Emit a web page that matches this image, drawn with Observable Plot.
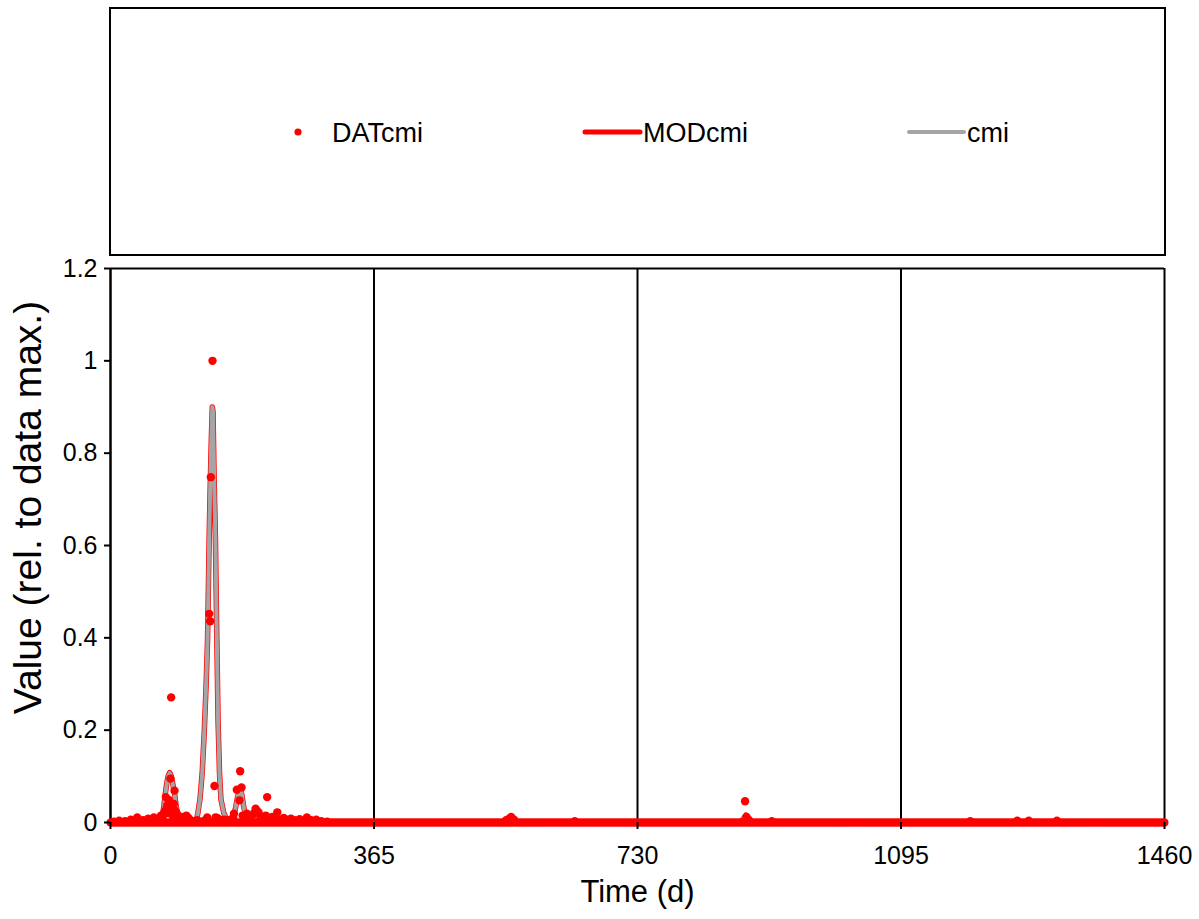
<!DOCTYPE html>
<html>
<head>
<meta charset="utf-8">
<script src="https://cdn.jsdelivr.net/npm/d3@7"></script>
<script src="https://cdn.jsdelivr.net/npm/@observablehq/plot@0.6"></script>
<style>
  html, body { margin: 0; padding: 0; background: #fff; }
  #chart { position: relative; width: 1199px; height: 919px; }
  #chart svg { display: block; }
  #legendsvg { position: absolute; left: 0; top: 0; z-index: 2; pointer-events: none; }
  #plotwrap { position: absolute; left: 0; top: 240px; z-index: 1; }
</style>
</head>
<body>
<div id="chart"><div id="plotwrap"></div></div>
<script>
// ---------- data ----------
const xTicks = [0, 365, 730, 1095, 1460];
const yTicks = [0, 0.2, 0.4, 0.6, 0.8, 1, 1.2];
const gridDays = [365, 730, 1095, 1460];

// observed data (DATcmi): non-zero observations
const datDays = [5, 12, 20, 28, 37, 45, 52, 60, 64, 68, 70, 72, 74, 76, 76.6, 77, 78.5, 80.8, 82, 83, 84, 85, 86, 87.7, 88.7, 90, 92, 93, 95, 98, 101, 105, 108, 112, 116, 120, 125, 130, 134, 136.7, 138, 139, 141.3, 144, 145.5, 148, 151, 155, 158, 162, 166, 170, 171, 175, 178.7, 179.6, 181.5, 183, 186, 189, 192, 196, 199, 201, 203, 205, 208, 212, 215, 217, 220, 224, 228, 231, 235, 240, 245, 250, 255, 262, 268, 272, 278, 285, 292, 300, 548, 552, 555, 559, 643, 879, 881, 884, 916, 1191, 1256, 1272, 1311];
const datVals = [0.002, 0.004, 0.003, 0.006, 0.011, 0.005, 0.008, 0.011, 0.006, 0.01, 0.015, 0.012, 0.02, 0.026, 0.055, 0.02, 0.037, 0.049, 0.02, 0.095, 0.271, 0.03, 0.015, 0.04, 0.069, 0.025, 0.019, 0.008, 0.01, 0.012, 0.008, 0.015, 0.01, 0.004, 0.003, 0.005, 0.002, 0.004, 0.011, 0.452, 0.436, 0.748, 1.0, 0.079, 0.011, 0.01, 0.006, 0.004, 0.006, 0.004, 0.006, 0.01, 0.019, 0.071, 0.048, 0.111, 0.076, 0.015, 0.01, 0.019, 0.012, 0.015, 0.02, 0.03, 0.025, 0.022, 0.012, 0.01, 0.015, 0.055, 0.01, 0.012, 0.008, 0.022, 0.006, 0.01, 0.006, 0.008, 0.005, 0.007, 0.004, 0.011, 0.005, 0.006, 0.003, 0.002, 0.005, 0.008, 0.012, 0.006, 0.003, 0.046, 0.012, 0.006, 0.003, 0.003, 0.004, 0.004, 0.004];
// the remaining daily observations read as zero (sampled every 2 days)
const datZeroStep = 2;

// simulated curve cmi (grey)
const cmiDays = [0, 30, 60, 66, 70, 72, 74, 76, 78, 80, 82, 84, 86, 88.7, 90.5, 92.4, 95, 99, 104, 115, 119, 121, 124, 127, 130, 132.5, 134.4, 135.5, 136.6, 138, 139.5, 141, 142, 143.5, 145.4, 147.3, 149, 151, 153, 157, 162, 166, 170, 173, 176, 179, 181, 183, 185, 188, 192, 196, 200, 204, 208, 212, 216, 219, 223, 230, 250, 266, 270, 274, 280, 540, 548, 552, 556, 562, 871, 876, 880, 884, 888, 894, 1250, 1256, 1262, 1305, 1311, 1317, 1460];
const cmiVals = [0, 0, 0, 0, 0.008, 0.015, 0.035, 0.062, 0.085, 0.1, 0.107, 0.1, 0.085, 0.062, 0.04, 0.022, 0.01, 0.003, 0, 0, 0.005, 0.02, 0.05, 0.106, 0.2, 0.3, 0.394, 0.5, 0.61, 0.72, 0.82, 0.9, 0.89, 0.75, 0.61, 0.394, 0.22, 0.106, 0.05, 0.02, 0.003, 0, 0.01, 0.03, 0.055, 0.07, 0.068, 0.05, 0.03, 0.012, 0.004, 0.006, 0.012, 0.018, 0.012, 0.005, 0.008, 0.01, 0.004, 0.002, 0.001, 0, 0.005, 0, 0, 0, 0.004, 0.01, 0.005, 0, 0, 0.006, 0.016, 0.006, 0.002, 0, 0, 0.004, 0, 0, 0.004, 0, 0];

// model curve MODcmi (red), nearly coincident with cmi
const modDays = [0, 30, 60, 66, 70, 72, 74, 76, 78, 80, 82, 84, 86, 88.7, 90.5, 92.4, 95, 99, 104, 115, 119, 121, 124, 127, 130, 132.5, 134.4, 135.5, 136.6, 138, 139.5, 141, 142, 143.5, 145.4, 147.3, 149, 151, 153, 157, 162, 166, 170, 173, 176, 179, 181, 183, 185, 188, 192, 196, 200, 204, 208, 212, 216, 219, 223, 230, 250, 266, 270, 274, 280, 540, 548, 552, 556, 562, 871, 876, 880, 884, 888, 894, 1250, 1256, 1262, 1305, 1311, 1317, 1460];
const modVals = [0, 0, 0, 0, 0.008, 0.015, 0.036, 0.063, 0.086, 0.101, 0.108, 0.101, 0.086, 0.063, 0.041, 0.022, 0.01, 0.003, 0, 0, 0.005, 0.02, 0.051, 0.107, 0.2, 0.3, 0.395, 0.5, 0.61, 0.72, 0.82, 0.9, 0.89, 0.75, 0.61, 0.395, 0.22, 0.107, 0.05, 0.02, 0.003, 0, 0.01, 0.03, 0.055, 0.07, 0.068, 0.05, 0.03, 0.012, 0.004, 0.006, 0.012, 0.018, 0.012, 0.005, 0.008, 0.01, 0.004, 0.002, 0.001, 0, 0.005, 0, 0, 0, 0.004, 0.01, 0.005, 0, 0, 0.006, 0.016, 0.006, 0.002, 0, 0, 0.004, 0, 0, 0.004, 0, 0];

const legendItems = ["DATcmi", "MODcmi", "cmi"];

// ---------- build tables ----------
const datData = datDays.map((d, i) => ({day: d, value: datVals[i]}));
const zeroData = d3.range(0, 1460 + 1, datZeroStep).map(d => ({day: d, value: 0}));
const cmiData = cmiDays.map((d, i) => ({day: d, value: cmiVals[i]}));
const modData = modDays.map((d, i) => ({day: d, value: modVals[i]}));

const FONT = "Arial, 'Liberation Sans', sans-serif";
const RED = "#ff0000";
const GREY = "#a5a5a5";

// ---------- legend (above the plot, overlaid) ----------
const leg = d3.create("svg")
  .attr("id", "legendsvg")
  .attr("width", 1199).attr("height", 258)
  .style("font-family", FONT);
leg.append("rect").attr("x", 110).attr("y", 8).attr("width", 1055).attr("height", 247)
  .attr("fill", "none").attr("stroke", "#000").attr("stroke-width", 2);
const ly = 132;
leg.append("circle").attr("cx", 298).attr("cy", ly).attr("r", 3.6).attr("fill", RED);
leg.append("line").attr("x1", 585).attr("x2", 640).attr("y1", ly).attr("y2", ly)
  .attr("stroke", RED).attr("stroke-width", 5).attr("stroke-linecap", "round");
leg.append("line").attr("x1", 909).attr("x2", 964).attr("y1", ly).attr("y2", ly)
  .attr("stroke", GREY).attr("stroke-width", 4).attr("stroke-linecap", "round");
const textX = [332, 643, 967];
legendItems.forEach((t, i) => {
  leg.append("text")
    .attr("x", textX[i]).attr("y", 141.5)
    .attr("font-size", 27).attr("fill", "#000").text(t);
});

// ---------- plot ----------
const top0 = 240;
const plot = Plot.plot({
  width: 1199,
  height: 919 - top0,
  marginLeft: 110,
  marginRight: 35,
  marginTop: 268 - top0,
  marginBottom: 919 - 822,
  style: {fontFamily: FONT, fontSize: "25px", color: "#000", background: "transparent"},
  x: {domain: [0, 1460]},
  y: {domain: [0, 1.2]},
  marks: [
    Plot.ruleX(gridDays, {stroke: "#000", strokeWidth: 2}),
    Plot.ruleY([1.2], {stroke: "#000", strokeWidth: 2}),
    Plot.line(modData, {x: "day", y: "value", stroke: RED, strokeWidth: 5.5}),
    Plot.line(cmiData, {x: "day", y: "value", stroke: GREY, strokeWidth: 4}),
    Plot.ruleX([0], {stroke: "#000", strokeWidth: 2.5}),
    Plot.ruleY([0], {stroke: "#000", strokeWidth: 2.5}),
    Plot.dot(zeroData, {x: "day", y: "value", r: 4, fill: RED, stroke: "none"}),
    Plot.dot(datData, {x: "day", y: "value", r: 4.2, fill: RED, stroke: "none"}),
    Plot.axisX(xTicks, {tickSize: 7, tickPadding: 17, strokeWidth: 2, label: null, fontSize: 25,
      tickFormat: d => String(d)}),
    Plot.axisY(yTicks, {tickSize: 6, tickPadding: 7, strokeWidth: 2, label: null, fontSize: 25,
      tickFormat: d => String(+d.toFixed(1))}),
    Plot.text(["Time (d)"], {frameAnchor: "bottom", dy: 79, fontSize: 31, fill: "#000", textAnchor: "middle"}),
    Plot.text(["Value (rel. to data max.)"], {frameAnchor: "left", dx: -82, dy: -38, rotate: -90, fontSize: 39, fill: "#000", textAnchor: "middle"})
  ]
});

const chart = document.getElementById("chart");
chart.insertBefore(leg.node(), chart.firstChild);
document.getElementById("plotwrap").appendChild(plot);
</script>
</body>
</html>
